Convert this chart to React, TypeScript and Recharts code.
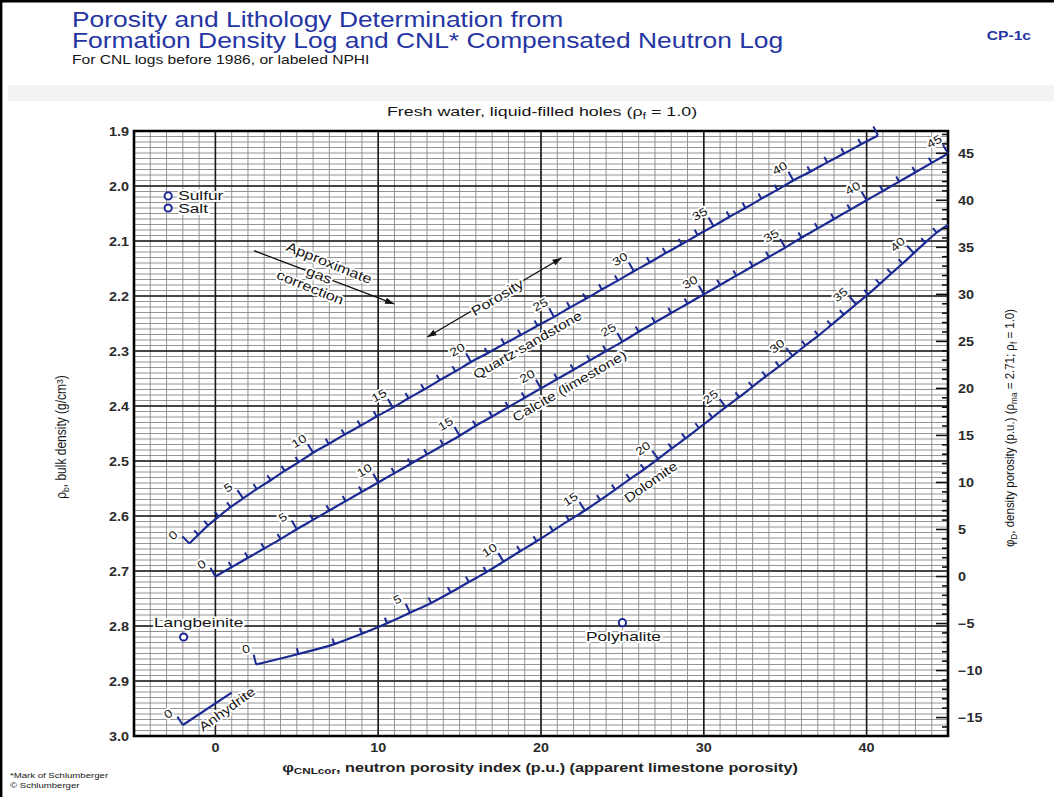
import React from "react";
import {
  ComposedChart,
  Line,
  Scatter,
  XAxis,
  YAxis,
  CartesianGrid,
  ReferenceLine,
  ReferenceArea,
  ReferenceDot,
} from "recharts";

const SANS = '"Liberation Sans", Arial, Helvetica, sans-serif';
const INK = "#151515";
const CHART_BLUE = "#1b2a92";
const TITLE_BLUE = "#2535a3";
const STRETCH = 1.2;

// density porosity scale on the right (limestone matrix, fresh water)
const MATRIX_DENSITY = 2.71;
const FLUID_DENSITY = 1.0;
const densityPorosity = (rho: number) =>
  ((MATRIX_DENSITY - rho) / (MATRIX_DENSITY - FLUID_DENSITY)) * 100;

// true porosity (p.u.) at each tick along the lithology lines
const porositySteps = Array.from({ length: 46 }, (_, i) => i);

const sandstoneNeutron = [
  -1.6, -1.05, -0.45, 0.2, 0.93, 1.7, 2.54, 3.39, 4.25, 5.12, 6.0, 6.96, 7.93, 8.91, 9.9, 10.9,
  11.86, 12.82, 13.78, 14.74, 15.7, 16.72, 17.74, 18.76, 19.78, 20.8, 21.78, 22.76, 23.74, 24.72, 25.7,
  26.68, 27.66, 28.64, 29.62, 30.6, 31.58, 32.56, 33.54, 34.52, 35.5, 36.54, 37.58, 38.62, 39.66, 40.7,
];
const sandstoneDensity = [
  2.65, 2.634, 2.617, 2.601, 2.584, 2.568, 2.551, 2.535, 2.518, 2.502, 2.485, 2.469, 2.452, 2.436,
  2.419, 2.403, 2.386, 2.37, 2.353, 2.337, 2.32, 2.304, 2.287, 2.271, 2.254, 2.238, 2.221, 2.205,
  2.188, 2.172, 2.155, 2.139, 2.122, 2.106, 2.089, 2.073, 2.056, 2.04, 2.023, 2.007, 1.99, 1.974,
  1.957, 1.941, 1.924, 1.908,
];
const sandstoneLabels = [0, 5, 10, 15, 20, 25, 30, 35, 40];

const limestoneNeutron = [
  0, 1, 2, 3, 4, 5, 6, 7, 8, 9, 10, 11, 12, 13, 14, 15, 16, 17, 18, 19, 20, 21, 22, 23, 24, 25, 26,
  27, 28, 29, 30, 31, 32, 33, 34, 35, 36, 37, 38, 39, 40, 41, 42, 43, 44, 45,
];
const limestoneDensity = [
  2.71, 2.693, 2.676, 2.659, 2.642, 2.624, 2.607, 2.59, 2.573, 2.556, 2.539, 2.522, 2.505, 2.488,
  2.471, 2.454, 2.436, 2.419, 2.402, 2.385, 2.368, 2.351, 2.334, 2.317, 2.3, 2.283, 2.265, 2.248,
  2.231, 2.214, 2.197, 2.18, 2.163, 2.146, 2.129, 2.112, 2.094, 2.077, 2.06, 2.043, 2.026, 2.009,
  1.992, 1.975, 1.958, 1.941,
];
const limestoneLabels = [0, 5, 10, 15, 20, 25, 30, 35, 40, 45];

// last dolomite point is where the line meets the right frame (no tick)
const dolomiteNeutron = [
  2.5, 5.1, 7.3, 9.0, 10.55, 11.95, 13.25, 14.45, 15.57, 16.65, 17.7, 18.72, 19.73, 20.73, 21.72,
  22.7, 23.64, 24.56, 25.46, 26.34, 27.2, 28.04, 28.875, 29.705, 30.53, 31.35, 32.17, 32.99, 33.81,
  34.63, 35.45, 36.25, 37.04, 37.82, 38.59, 39.35, 40.09, 40.81, 41.52, 42.21, 42.9, 43.6, 44.3, 45.0,
];
const dolomiteDensity = [
  2.87, 2.851, 2.833, 2.814, 2.795, 2.776, 2.758, 2.739, 2.72, 2.702, 2.683, 2.664, 2.646, 2.627,
  2.608, 2.59, 2.571, 2.552, 2.533, 2.515, 2.496, 2.477, 2.459, 2.44, 2.421, 2.402, 2.384, 2.365,
  2.346, 2.328, 2.309, 2.29, 2.272, 2.253, 2.234, 2.215, 2.197, 2.178, 2.159, 2.141, 2.122, 2.103,
  2.085, 2.071,
];
const dolomiteLabels = [0, 5, 10, 15, 20, 25, 30, 35, 40];

const anhydriteNeutron = [-2.0, 1.0];
const anhydriteDensity = [2.98, 2.921];
const anhydriteLabels = [0];

const mineralNames = ["Sulfur", "Salt", "Langbeinite", "Polyhalite"];
const mineralNeutron = [-2.9, -2.9, -1.95, 25.0];
const mineralDensity = [2.018, 2.04, 2.82, 2.794];

const neutronTickLabels = [0, 10, 20, 30, 40];
const densityTickLabels = [1.9, 2.0, 2.1, 2.2, 2.3, 2.4, 2.5, 2.6, 2.7, 2.8, 2.9, 3.0];
const densityPorosityTickLabels = [-15, -10, -5, 0, 5, 10, 15, 20, 25, 30, 35, 40, 45];

// grid: 1 p.u. across, 0.01 g/cm3 down, heavier every 10 p.u. / 0.1 g/cm3
const gridNeutron = Array.from({ length: 51 }, (_, i) => i - 5);
const gridDensity = Array.from({ length: 111 }, (_, i) => (190 + i) / 100);
const gridPhiD = Array.from({ length: 64 }, (_, i) => i - 16);
const majorNeutron = [0, 10, 20, 30, 40];
const majorDensity = [2.0, 2.1, 2.2, 2.3, 2.4, 2.5, 2.6, 2.7, 2.8, 2.9];

const buildSeries = (neutron: number[], density: number[], ticks: number[]) =>
  neutron.map((n, i) => ({ n, rho: density[i], phi: i < ticks.length ? ticks[i] : null }));

const sandstone = buildSeries(sandstoneNeutron, sandstoneDensity, porositySteps);
const limestone = buildSeries(limestoneNeutron, limestoneDensity, porositySteps);
const dolomite = buildSeries(dolomiteNeutron, dolomiteDensity, porositySteps.slice(0, 43));
const anhydrite = buildSeries(anhydriteNeutron, anhydriteDensity, [0]);
const minerals = mineralNames.map((name, i) => ({ name, n: mineralNeutron[i], rho: mineralDensity[i] }));

const mineralLabelPlacement: Record<string, { dx: number; dy: number; anchor: string }> = {
  Sulfur: { dx: 10, dy: 4.5, anchor: "start" },
  Salt: { dx: 10, dy: 4.5, anchor: "start" },
  Langbeinite: { dx: 15, dy: -10, anchor: "middle" },
  Polyhalite: { dx: 1, dy: 18, anchor: "middle" },
};

type TxtProps = {
  x: number;
  y: number;
  angle?: number;
  sx?: number;
  sy?: number;
  anchor?: string;
  baseline?: string;
  size?: number;
  weight?: string | number;
  fill?: string;
  halo?: boolean;
  children?: React.ReactNode;
};

// text is drawn a little wider than the font's natural width
function Txt({
  x,
  y,
  angle = 0,
  sx = STRETCH,
  sy = 1,
  anchor = "start",
  baseline,
  size = 12,
  weight = "normal",
  fill = INK,
  halo = false,
  children,
}: TxtProps) {
  return (
    <text
      transform={`translate(${x} ${y}) rotate(${angle}) scale(${sx} ${sy})`}
      textAnchor={anchor as any}
      dominantBaseline={baseline as any}
      fontSize={size}
      fontWeight={weight}
      fontFamily={SANS}
      fill={fill}
      stroke={halo ? "#ffffff" : undefined}
      strokeWidth={halo ? 3.5 : undefined}
      strokeLinejoin="round"
      paintOrder="stroke"
    >
      {children}
    </text>
  );
}

// runs of text with subscripts (level 1) and superscripts (level -1)
function rich(parts: Array<[string, number]>, shift = 3) {
  let level = 0;
  return parts.map(([t, l], i) => {
    const dy = (l - level) * shift;
    level = l;
    return (
      <tspan key={i} dy={dy} fontSize={l !== 0 ? "72%" : undefined}>
        {t}
      </tspan>
    );
  });
}

// perpendicular porosity ticks hung on the upper-left side of each line
function porosityTicks(labelled: number[]) {
  return (props: any) => {
    const { cx, cy, index, points, payload } = props;
    const key = `tick-${index}`;
    if (cx == null || cy == null || !payload || payload.phi == null || !points) return <g key={key} />;
    const a = points[Math.max(0, index - 1)];
    const b = points[Math.min(points.length - 1, index + 1)];
    const dx = b.x - a.x;
    const dy = b.y - a.y;
    const len = Math.hypot(dx, dy) || 1;
    const ux = dx / len;
    const uy = dy / len;
    const nx = uy;
    const ny = -ux;
    const showLabel = labelled.includes(payload.phi);
    const size = payload.phi % 5 === 0 ? 10 : 6;
    const angle = (Math.atan2(uy, ux) * 180) / Math.PI;
    const lx = cx + nx * 17 - ux * 6;
    const ly = cy + ny * 17 - uy * 6;
    return (
      <g key={key}>
        <line x1={cx} y1={cy} x2={cx + nx * size} y2={cy + ny * size} stroke={CHART_BLUE} strokeWidth={2} />
        {showLabel && (
          <Txt x={lx} y={ly} angle={angle} sx={1.2} anchor="middle" baseline="central" size={11.5} halo>
            {payload.phi}
          </Txt>
        )}
      </g>
    );
  };
}

const NeutronTick = (props: any) => {
  const { x, y, payload } = props;
  if (!neutronTickLabels.includes(payload.value)) return <g />;
  return (
    <Txt x={x} y={y + 16} anchor="middle" size={12} weight="bold" fill="#2b2b2b">
      {payload.value}
    </Txt>
  );
};

const DensityTick = (props: any) => {
  const { x, y, payload } = props;
  if (!densityTickLabels.some((v) => Math.abs(v - payload.value) < 1e-6)) return <g />;
  return (
    <Txt x={x - 5} y={y + 4.5} anchor="end" size={12} weight="bold" fill="#2b2b2b">
      {Number(payload.value).toFixed(1)}
    </Txt>
  );
};

const PhiDTick = (props: any) => {
  const { x, y, payload } = props;
  const v = Math.round(payload.value);
  const labelled = densityPorosityTickLabels.includes(v);
  return (
    <g>
      <line x1={x - (labelled ? 12 : 6)} y1={y} x2={x} y2={y} stroke="#111" strokeWidth={1.6} />
      {labelled && (
        <Txt x={x + 10} y={y + 4.5} size={12} weight="bold" fill="#2b2b2b">
          {v < 0 ? `\u2212${-v}` : v}
        </Txt>
      )}
    </g>
  );
};

const MineralMark = (props: any) => {
  const { cx, cy, payload } = props;
  const place = mineralLabelPlacement[payload.name];
  return (
    <g>
      <circle cx={cx} cy={cy} r={3.6} fill="#fff" stroke={CHART_BLUE} strokeWidth={2} />
      <Txt x={cx + place.dx} y={cy + place.dy} anchor={place.anchor} size={13.5} sx={1.28} halo>
        {payload.name}
      </Txt>
    </g>
  );
};

const note = (text: string, angle: number, size = 13) => (p: any) => (
  <Txt x={p.cx} y={p.cy} angle={angle} sx={1.2} anchor="middle" baseline="central" size={size} halo>
    {text}
  </Txt>
);

const arrowShape = (double: boolean) => (p: any) => {
  const { x1, y1, x2, y2 } = p;
  const dx = x2 - x1;
  const dy = y2 - y1;
  const len = Math.hypot(dx, dy) || 1;
  const ux = dx / len;
  const uy = dy / len;
  const head = (x: number, y: number, ex: number, ey: number) => {
    const bx = x - ex * 9;
    const by = y - ey * 9;
    return `${x},${y} ${bx - ey * 3.2},${by + ex * 3.2} ${bx + ey * 3.2},${by - ex * 3.2}`;
  };
  return (
    <g>
      <line x1={x1} y1={y1} x2={x2} y2={y2} stroke="#111" strokeWidth={1.3} />
      <polygon points={head(x2, y2, ux, uy)} fill="#111" />
      {double && <polygon points={head(x1, y1, -ux, -uy)} fill="#111" />}
    </g>
  );
};

const lineProps = {
  xAxisId: "n",
  yAxisId: "rho",
  dataKey: "rho",
  type: "monotone" as const,
  stroke: CHART_BLUE,
  strokeWidth: 2.2,
  activeDot: false,
  isAnimationActive: false,
};

export default function App() {
  return (
    <div style={{ position: "absolute", left: 0, top: 0, width: 1054, height: 797, background: "#fff" }}>
      <svg width={1054} height={797} style={{ position: "absolute", left: 0, top: 0 }}>
        <rect x={0} y={0} width={1054} height={797} fill="#ffffff" />
        {/* faint scanned strip under the header */}
        <rect x={8} y={85} width={1046} height={16} fill="#e9e9e9" opacity={0.55} />
        <line x1={1.2} y1={0} x2={1.2} y2={797} stroke="#000" strokeWidth={2.4} />
        <line x1={0} y1={1.2} x2={1054} y2={1.2} stroke="#000" strokeWidth={2.4} />
        <Txt x={72} y={27} size={22} fill={TITLE_BLUE}>
          Porosity and Lithology Determination from
        </Txt>
        <Txt x={72} y={48} size={22} fill={TITLE_BLUE}>
          Formation Density Log and CNL* Compensated Neutron Log
        </Txt>
        <Txt x={72} y={64} size={13}>
          For CNL logs before 1986, or labeled NPHI
        </Txt>
        <Txt x={1031} y={40} anchor="end" size={13} weight="bold" fill={TITLE_BLUE}>
          CP-1c
        </Txt>
        <Txt x={542} y={116} anchor="middle" size={13.5} sx={1.32}>
          {rich([
            ["Fresh water, liquid-filled holes (\u03c1", 0],
            ["f", 1],
            [" = 1.0)", 0],
          ])}
        </Txt>
        <Txt x={10} y={778} size={8}>
          *Mark of Schlumberger
        </Txt>
        <Txt x={10} y={788} size={8}>
          © Schlumberger
        </Txt>
      </svg>
      <div style={{ position: "absolute", left: 0, top: 0 }}>
        <ComposedChart width={1054} height={797} margin={{ top: 131, right: 36, bottom: 21, left: 74 }}>
          <CartesianGrid xAxisId="n" yAxisId="rho" stroke="#888888" strokeWidth={0.9} />
          <XAxis
            xAxisId="n"
            dataKey="n"
            type="number"
            domain={[-5, 45]}
            ticks={gridNeutron}
            interval={0}
            height={40}
            tickLine={false}
            axisLine={false}
            tickSize={0}
            tickMargin={0}
            tick={<NeutronTick />}
            label={{
              content: () => (
                <Txt x={540} y={772} anchor="middle" size={13} weight="bold" sx={1.25} fill="#222">
                  {rich(
                    [
                      ["\u03c6", 0],
                      ["CNLcor", 1],
                      [", neutron porosity index (p.u.) (apparent limestone porosity)", 0],
                    ],
                    2,
                  )}
                </Txt>
              ),
            }}
          />
          <YAxis
            yAxisId="rho"
            dataKey="rho"
            type="number"
            domain={[1.9, 3.0]}
            reversed
            ticks={gridDensity}
            interval={0}
            width={60}
            tickLine={false}
            axisLine={false}
            tickSize={0}
            tickMargin={0}
            tick={<DensityTick />}
            label={{
              content: () => (
                <Txt x={66} y={437} angle={-90} sx={1} sy={1.15} anchor="middle" size={12}>
                  {rich([
                    ["\u03c1", 0],
                    ["b", 1],
                    [", bulk density (g/cm", 0],
                    ["3", -1],
                    [")", 0],
                  ])}
                </Txt>
              ),
            }}
          />
          <YAxis
            yAxisId="phiD"
            orientation="right"
            type="number"
            domain={[densityPorosity(3.0), densityPorosity(1.9)]}
            allowDataOverflow
            ticks={gridPhiD}
            interval={0}
            width={70}
            tickLine={false}
            axisLine={false}
            tickSize={0}
            tickMargin={0}
            tick={<PhiDTick />}
            label={{
              content: () => (
                <Txt x={1014} y={428} angle={-90} sx={1} sy={1.15} anchor="middle" size={11.5}>
                  {rich([
                    ["\u03c6", 0],
                    ["D", 1],
                    [", density porosity (p.u.) (\u03c1", 0],
                    ["ma", 1],
                    [" = 2.71; \u03c1", 0],
                    ["f", 1],
                    [" = 1.0)", 0],
                  ])}
                </Txt>
              ),
            }}
          />

          {majorNeutron.map((v) => (
            <ReferenceLine key={`mx-${v}`} xAxisId="n" yAxisId="rho" x={v} stroke="#1a1a1a" strokeWidth={1.6} />
          ))}
          {majorDensity.map((v) => (
            <ReferenceLine key={`my-${v}`} xAxisId="n" yAxisId="rho" y={v} stroke="#1a1a1a" strokeWidth={1.6} />
          ))}
          <ReferenceArea
            xAxisId="n"
            yAxisId="rho"
            x1={-5}
            x2={45}
            y1={1.9}
            y2={3.0}
            fill="none"
            fillOpacity={0}
            stroke="#000"
            strokeWidth={2.6}
          />

          {/* gas correction and porosity direction arrows */}
          <ReferenceLine
            xAxisId="n"
            yAxisId="rho"
            segment={[
              { x: 2.37, y: 2.1176 },
              { x: 10.98, y: 2.2145 },
            ]}
            shape={arrowShape(false)}
          />
          <ReferenceLine
            xAxisId="n"
            yAxisId="rho"
            segment={[
              { x: 13.02, y: 2.2745 },
              { x: 21.26, y: 2.1309 },
            ]}
            shape={arrowShape(true)}
          />
          <ReferenceDot xAxisId="n" yAxisId="rho" x={6.98} y={2.14} r={0} shape={note("Approximate", 22, 13.5)} />
          <ReferenceDot xAxisId="n" yAxisId="rho" x={6.37} y={2.162} r={0} shape={note("gas", 22, 13.5)} />
          <ReferenceDot xAxisId="n" yAxisId="rho" x={5.82} y={2.1845} r={0} shape={note("correction", 22, 13.5)} />
          <ReferenceDot xAxisId="n" yAxisId="rho" x={17.32} y={2.2027} r={0} shape={note("Porosity", -31, 13.5)} />

          <Line {...lineProps} data={sandstone} dot={porosityTicks(sandstoneLabels)} />
          <Line {...lineProps} data={limestone} dot={porosityTicks(limestoneLabels)} />
          <Line {...lineProps} data={dolomite} dot={porosityTicks(dolomiteLabels)} />
          <Line {...lineProps} type="linear" data={anhydrite} dot={porosityTicks(anhydriteLabels)} />

          <ReferenceDot xAxisId="n" yAxisId="rho" x={19.17} y={2.289} r={0} shape={note("Quartz sandstone", -30)} />
          <ReferenceDot xAxisId="n" yAxisId="rho" x={21.75} y={2.3636} r={0} shape={note("Calcite (limestone)", -30)} />
          <ReferenceDot xAxisId="n" yAxisId="rho" x={26.74} y={2.538} r={0} shape={note("Dolomite", -35)} />
          <ReferenceDot xAxisId="n" yAxisId="rho" x={0.71} y={2.951} r={0} shape={note("Anhydrite", -36)} />

          <Scatter
            xAxisId="n"
            yAxisId="rho"
            data={minerals}
            dataKey="rho"
            shape={<MineralMark />}
            isAnimationActive={false}
          />
        </ComposedChart>
      </div>
    </div>
  );
}
